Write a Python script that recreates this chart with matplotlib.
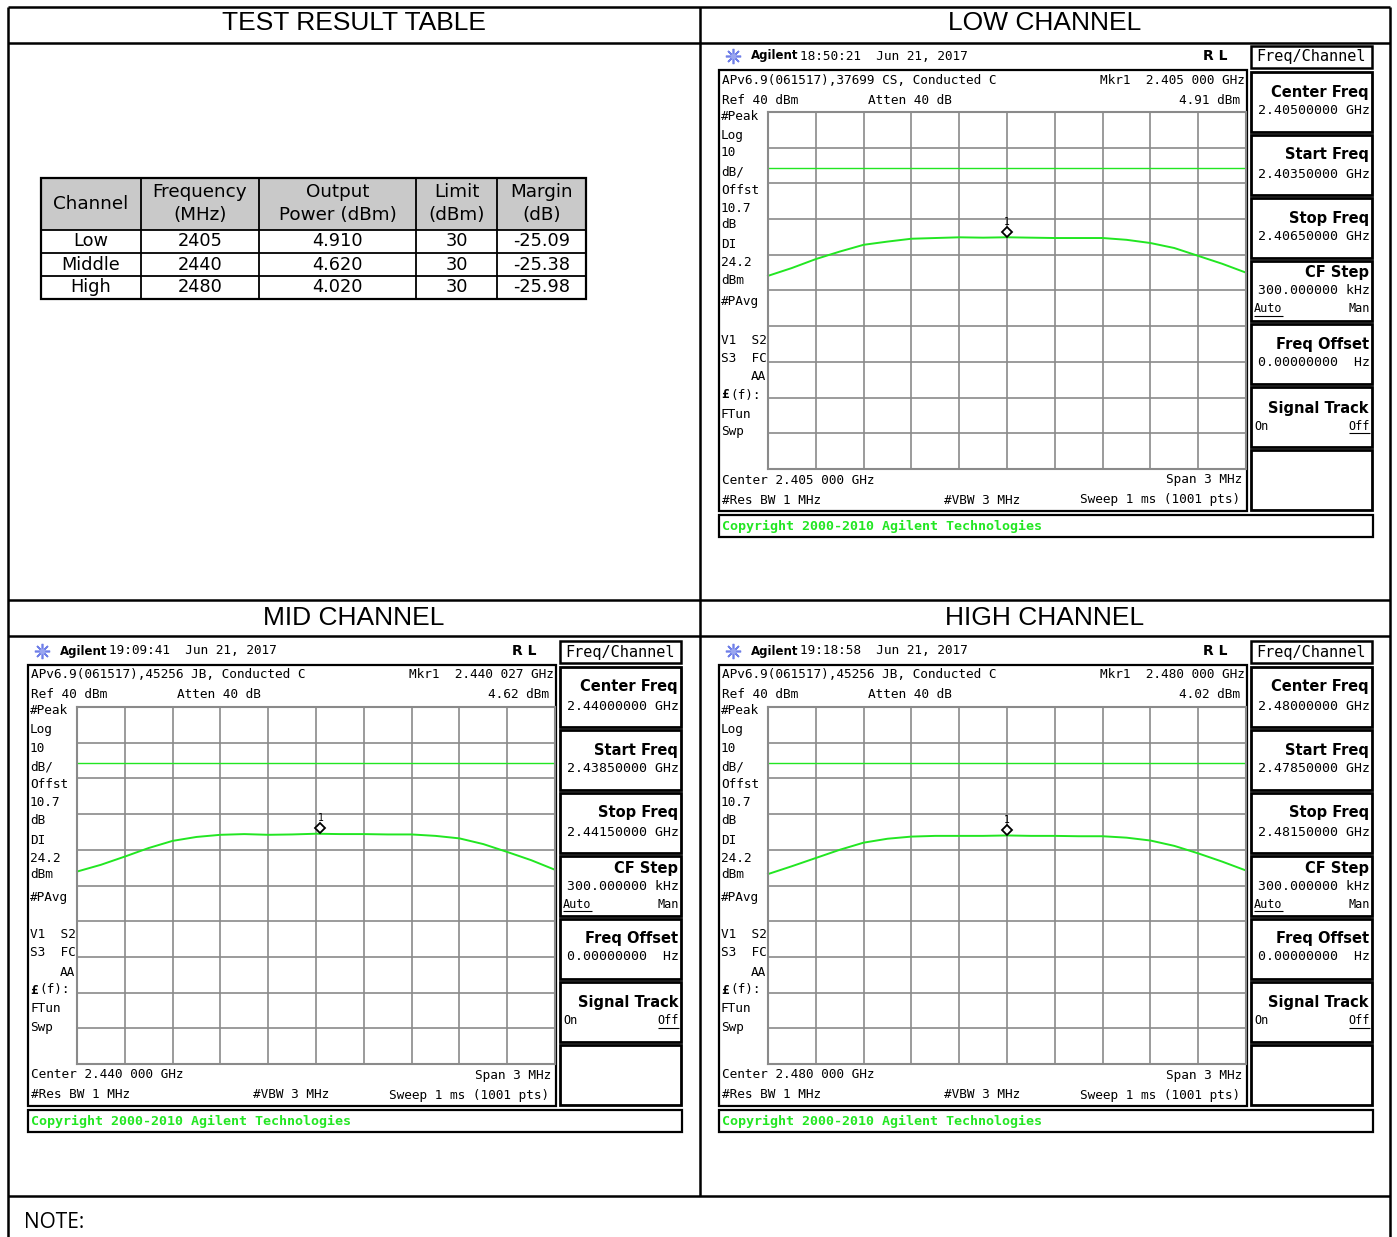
import numpy as np
import matplotlib.pyplot as plt
from matplotlib.patches import Rectangle
from matplotlib.transforms import offset_copy

W, H = 1397, 1237

# summary table
channels = ['Low', 'Middle', 'High']
freq_mhz = [2405, 2440, 2480]
output_dbm = [4.910, 4.620, 4.020]
limit_dbm = [30, 30, 30]
margin_db = [-25.09, -25.38, -25.98]

# analyzer captures (one per channel)
panel_titles = ['LOW CHANNEL', 'MID CHANNEL', 'HIGH CHANNEL']
sweep_times = ['18:50:21', '19:09:41', '19:18:58']
job_ids = ['37699 CS', '45256 JB', '45256 JB']
mkr_offset_mhz = [0.0, 0.027, 0.0]
span_mhz = 3.0
ref_dbm = 40
db_per_div = 10
display_line_dbm = 24.2

# trace samples, 21 bins across the 3 MHz span (dBm)
trace_low = [-5.9, -3.7, -1.2, 0.9, 2.8, 3.7, 4.5, 4.7, 4.9, 4.8, 4.91,
             4.8, 4.7, 4.7, 4.7, 4.2, 3.3, 1.9, -0.3, -2.5, -5.0]
trace_mid = [-6.1, -4.2, -1.9, 0.5, 2.5, 3.6, 4.2, 4.4, 4.2, 4.3, 4.5,
             4.4, 4.4, 4.3, 4.3, 3.9, 3.2, 1.6, -0.6, -2.9, -5.6]
trace_high = [-6.8, -4.6, -2.3, 0.0, 2.0, 3.1, 3.7, 3.9, 3.9, 3.9, 4.02,
              3.9, 3.9, 3.8, 3.8, 3.4, 2.6, 1.1, -1.0, -3.3, -5.8]
traces = [trace_low, trace_mid, trace_high]

MONO = 'DejaVu Sans Mono'
SANS = 'DejaVu Sans'
GREEN = '#22e622'
GRID = '#8a8a8a'

fig = plt.figure(figsize=(W / 100, H / 100), dpi=100)
page = fig.add_axes([0, 0, 1, 1])
page.set_xlim(0, W)
page.set_ylim(H, 0)
page.axis('off')


def hline(y, x0, x1, lw=1.8, color='black'):
    page.plot([x0, x1], [y, y], color=color, lw=lw, solid_capstyle='butt')


def vline(x, y0, y1, lw=1.8, color='black'):
    page.plot([x, x], [y0, y1], color=color, lw=lw, solid_capstyle='butt')


def box(x0, y0, x1, y1, lw=1.6, fc='none'):
    page.add_patch(Rectangle((x0, y0), x1 - x0, y1 - y0, fill=fc != 'none',
                             facecolor=fc, edgecolor='black', lw=lw))


# page frame
L, R, DIV = 8, 1390, 700
hline(7, L, R)
hline(43, L, R)
hline(600, L, R)
hline(636, L, R)
hline(1196, L, R)
vline(L, 7, H)
vline(R, 7, H)
vline(DIV, 7, 1196)

hdr_kw = dict(ha='center', va='center', fontsize=19, family='Liberation Sans')
page.text(354, 23, 'TEST RESULT TABLE', **hdr_kw)
page.text(1045, 23, panel_titles[0], **hdr_kw)
page.text(354, 618, panel_titles[1], **hdr_kw)
page.text(1045, 618, panel_titles[2], **hdr_kw)
page.text(24, 1222, 'NOTE:', va='center', fontsize=15, family='Open Sans')

# result table
cols = [41, 141, 259, 416, 497, 586]
rows = [178, 230, 253, 276, 299]
page.add_patch(Rectangle((cols[0], rows[0]), cols[-1] - cols[0], rows[1] - rows[0],
                         facecolor='#c9c9c9', edgecolor='none'))
for y in rows:
    hline(y, cols[0], cols[-1], lw=1.3)
for x in cols:
    vline(x, rows[0], rows[-1], lw=1.3)
box(cols[0], rows[0], cols[-1], rows[-1], lw=1.6)

centers = [(a + b) / 2 for a, b in zip(cols[:-1], cols[1:])]
hkw = dict(ha='center', va='center', fontsize=13.2, family=SANS)
tkw = dict(ha='center', va='center', fontsize=12.8, family=SANS)
head_top = ['', 'Frequency', 'Output', 'Limit', 'Margin']
head_bot = ['', '(MHz)', 'Power (dBm)', '(dBm)', '(dB)']
page.text(centers[0], 204, 'Channel', **hkw)
for cx, a, b in zip(centers[1:], head_top[1:], head_bot[1:]):
    page.text(cx, 192, a, **hkw)
    page.text(cx, 215, b, **hkw)
for i in range(3):
    cy = (rows[i + 1] + rows[i + 2]) / 2
    vals = [channels[i], f'{freq_mhz[i]}', f'{output_dbm[i]:.3f}',
            f'{limit_dbm[i]}', f'{margin_db[i]:.2f}']
    for cx, v in zip(centers, vals):
        page.text(cx, cy, v, **tkw)


def draw_screen(ox, oy, k):
    center = freq_mhz[k]
    start = center - span_mhz / 2
    stop = center + span_mhz / 2

    def t(x, y, s, size=9.2, **kw):
        kw.setdefault('family', MONO)
        page.text(ox + x, oy + y, s, va='center', fontsize=size, **kw)

    # title bar
    page.plot(ox + 15, oy + 11, marker=(8, 2, 0), ms=11, color='#6f7fe8', mew=1.2)
    page.plot(ox + 15, oy + 11, marker='o', ms=4, color='#9aa6f0', mec='none')
    t(33, 11, 'Agilent', size=8.5, family=SANS, weight='bold')
    t(82, 11, f'{sweep_times[k]}  Jun 21, 2017')
    t(485, 11, 'R L', size=10, family=SANS, weight='bold')

    # display frame
    box(ox + 1, oy + 25, ox + 529, oy + 466, lw=1.6)
    mkr_f = (center + mkr_offset_mhz[k]) / 1000
    t(4, 35, f'APv6.9(061517),{job_ids[k]}, Conducted C')
    mk = f'{mkr_f:.6f}'
    t(527, 35, f'Mkr1  {mk[:5]} {mk[5:]} GHz', ha='right')
    t(4, 55, 'Ref 40 dBm')
    t(150, 55, 'Atten 40 dB')
    t(522, 55, f'{output_dbm[k]:.2f} dBm', ha='right')

    left_labels = [('#Peak', 71), ('Log', 90), ('10', 108), ('dB/', 127),
                   ('Offst', 145), ('10.7', 163), ('dB', 180), ('DI', 200),
                   ('24.2', 218), ('dBm', 235), ('#PAvg', 257), ('V1  S2', 295),
                   ('S3  FC', 313), ('FTun', 369), ('Swp', 387)]
    for s, y in left_labels:
        t(3, y, s)
    t(3, 350, '£', weight='bold')
    t(12, 350, '(f):')
    t(48, 332, 'AA', ha='right')

    t(4, 435, f'Center {center / 1000:.3f} 000 GHz')
    t(524, 435, f'Span {span_mhz:g} MHz', ha='right')
    t(4, 455, '#Res BW 1 MHz')
    t(226, 455, '#VBW 3 MHz')
    t(522, 455, 'Sweep 1 ms (1001 pts)', ha='right')

    box(ox + 1, oy + 470, ox + 655, oy + 492, lw=1.6)
    t(4, 481, 'Copyright 2000-2010 Agilent Technologies', size=9.6,
      weight='bold', color=GREEN)

    # softkey column
    kx0, kx1 = ox + 533, ox + 654
    box(kx0, oy + 1, kx1, oy + 23, lw=1.8)
    t(593, 12, 'Freq/Channel', size=11, ha='center')
    tops = [27, 90, 153, 216, 279, 342, 405]
    for y0 in tops:
        box(kx0, oy + y0, kx1, oy + y0 + 60, lw=2.0)
    skw = dict(size=10.5, family=SANS, weight='bold', ha='right')
    t(651, tops[0] + 20, 'Center Freq', **skw)
    t(652, tops[0] + 39, f'{center / 1000:.8f} GHz', size=9.5, ha='right')
    t(651, tops[1] + 20, 'Start Freq', **skw)
    t(652, tops[1] + 39, f'{start / 1000:.8f} GHz', size=9.5, ha='right')
    t(651, tops[2] + 20, 'Stop Freq', **skw)
    t(652, tops[2] + 39, f'{stop / 1000:.8f} GHz', size=9.5, ha='right')
    t(651, tops[3] + 12, 'CF Step', **skw)
    t(652, tops[3] + 30, '300.000000 kHz', size=9.5, ha='right')
    t(536, tops[3] + 48, 'Auto', size=8.5)
    hline(oy + tops[3] + 55, ox + 536, ox + 565, lw=0.8)
    t(652, tops[3] + 48, 'Man', size=8.5, ha='right')
    t(651, tops[4] + 20, 'Freq Offset', **skw)
    t(652, tops[4] + 38, '0.00000000  Hz', size=9.5, ha='right')
    t(651, tops[5] + 21, 'Signal Track', **skw)
    t(536, tops[5] + 39, 'On', size=8.5)
    t(652, tops[5] + 39, 'Off', size=8.5, ha='right')
    hline(oy + tops[5] + 46, ox + 631, ox + 652, lw=0.8)

    # graticule and trace
    gx0, gy0, gx1, gy1 = ox + 50, oy + 67, ox + 528, oy + 424
    ax = fig.add_axes([gx0 / W, 1 - gy1 / H, (gx1 - gx0) / W, (gy1 - gy0) / H])
    ax.set_facecolor('white')
    ax.set_xlim(start, stop)
    ax.set_ylim(ref_dbm - 10 * db_per_div, ref_dbm)
    ax.set_xticks(np.linspace(start, stop, 11))
    ax.set_yticks(np.arange(ref_dbm - 10 * db_per_div, ref_dbm + 1, db_per_div))
    ax.tick_params(length=0, labelbottom=False, labelleft=False)
    ax.grid(True, color=GRID, lw=1.2)
    for sp in ax.spines.values():
        sp.set_color(GRID)
        sp.set_linewidth(1.5)
    ax.axhline(display_line_dbm, color=GREEN, lw=1.0)
    freqs = center + np.linspace(-span_mhz / 2, span_mhz / 2, len(traces[k]))
    ax.plot(freqs, traces[k], color=GREEN, lw=1.4, clip_on=False)
    mf = center + mkr_offset_mhz[k]
    up = offset_copy(ax.transData, fig=fig, x=0, y=4, units='points')
    ax.plot(mf, output_dbm[k], marker='D', ms=5, mfc='white', mec='black',
            mew=1.3, transform=up)
    ax.annotate('1', (mf, output_dbm[k]), xytext=(0, 11), textcoords='offset points',
                ha='center', va='center', fontsize=7, family=MONO)


draw_screen(718, 45, 0)
draw_screen(27, 640, 1)
draw_screen(718, 640, 2)

fig.savefig('out.png', dpi=100)
